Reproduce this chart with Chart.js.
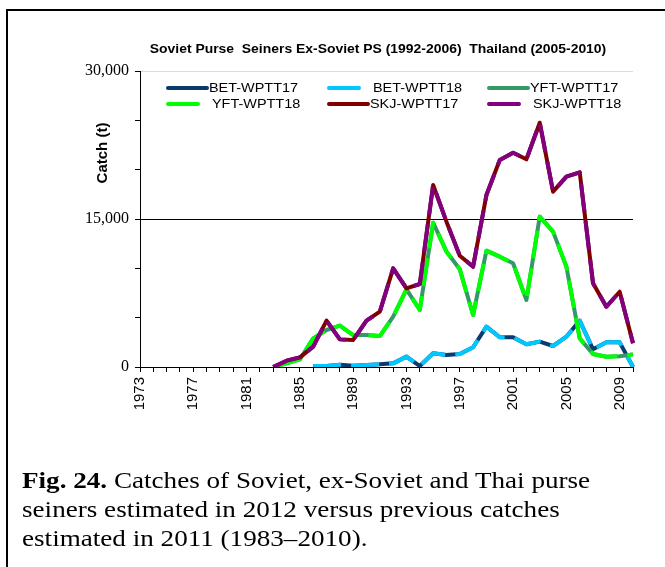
<!DOCTYPE html>
<html>
<head>
<meta charset="utf-8">
<script src="https://cdn.jsdelivr.net/npm/chart.js@4.4.0/dist/chart.umd.min.js"></script>
<style>
  html, body { margin: 0; padding: 0; background: #fff; overflow: hidden; }
  #fig { position: relative; width: 665px; height: 567px; overflow: hidden; }
  #frame { position: absolute; left: 6px; top: 9px; width: 720px; height: 620px; border: 2px solid #000; box-sizing: border-box; }
  #chart { position: absolute; left: 0; top: 0; }
  #caption { position: absolute; left: 22px; top: 466px; font-family: "Liberation Serif", "Times New Roman", serif; font-size: 24px; line-height: 29px; color: #000; white-space: nowrap; transform: scaleX(1.13); transform-origin: 0 0; }
</style>
</head>
<body>
<div id="fig">
  <div id="frame"></div>
  <canvas id="chart" width="665" height="567"></canvas>
  <div id="caption"><b>Fig. 24.</b> Catches of Soviet, ex-Soviet and Thai purse<br>seiners estimated in 2012 versus previous catches<br>estimated in 2011 (1983–2010).</div>
</div>
<script>
// Years on the category axis
const years = ['1973','1974','1975','1976','1977','1978','1979','1980','1981','1982',
               '1983','1984','1985','1986','1987','1988','1989','1990','1991','1992',
               '1993','1994','1995','1996','1997','1998','1999','2000','2001','2002',
               '2003','2004','2005','2006','2007','2008','2009','2010'];

// Labelled ticks
const xTickLabels = ['1973','1977','1981','1985','1989','1993','1997','2001','2005','2009'];
const yTickLabels = [0, 15000, 30000];

// Catches (t), bigeye
const bet17 = [null,null,null,null,null,null,null,null,null,null,null,null,null,
               100,100,230,120,200,270,370,1050,100,1390,1220,1320,2000,4090,3010,3010,2300,2570,2130,3070,4700,1790,2500,2500,0];
const bet18 = [null,null,null,null,null,null,null,null,null,null,null,null,null,
               100,100,230,120,200,270,370,1050,100,1390,1220,1320,2000,4090,3010,3010,2300,2570,2130,3070,4700,1790,2500,2500,0];

// Catches (t), yellowfin
const yft17 = [null,null,null,null,null,null,null,null,null,null,
               0,370,780,2900,3750,4200,3240,3240,3140,5100,7870,5780,14630,11690,9900,5270,11790,11180,10510,6790,15240,13720,10170,2900,1310,1040,1100,1280];
const yft18 = [null,null,null,null,null,null,null,null,null,null,
               0,370,780,2900,3750,4200,3240,3240,3140,5100,7870,5780,14630,11690,9900,5270,11790,11180,10510,6790,15240,13720,10170,2900,1310,1040,1100,1280];

// Catches (t), skipjack
const skj17 = [null,null,null,null,null,null,null,null,null,null,
               0,640,980,2060,4700,2800,2740,4700,5610,10000,7970,8410,18450,14730,11280,10170,17430,20980,21720,21050,24760,17770,19290,19730,8480,6110,7630,2400];
const skj18 = [null,null,null,null,null,null,null,null,null,null,
               0,640,980,2060,4700,2800,2740,4700,5610,10000,7970,8410,18450,14730,11280,10170,17430,20980,21720,21050,24760,17770,19290,19730,8480,6110,7630,2400];

const seriesNames  = ['BET-WPTT17','BET-WPTT18','YFT-WPTT17','YFT-WPTT18','SKJ-WPTT17','SKJ-WPTT18'];
const seriesValues = [bet17, bet18, yft17, yft18, skj17, skj18];

const chartTitle = 'Soviet Purse  Seiners Ex-Soviet PS (1992-2006)  Thailand (2005-2010)';
const yTitle = 'Catch (t)';

// Styles
const seriesColors = ['#0b3b6c','#00c8ff','#339966','#00ff00','#800000','#800080'];
const newEstimateDash = [28, 10];
const sansFont = '"Liberation Sans", Arial, sans-serif';
const serifFont = '"Liberation Serif", "Times New Roman", serif';
const textStretch = 1.11;   // horizontal widening of the chart's text

const datasets = seriesNames.map((name, i) => ({
  label: name,
  data: seriesValues[i],
  borderColor: seriesColors[i],
  backgroundColor: seriesColors[i],
  borderWidth: 4,
  borderDash: (i % 2 === 1) ? newEstimateDash : [],
  borderCapStyle: 'butt',
  borderJoinStyle: 'round',
  pointRadius: 0,
  tension: 0,
  fill: false,
  spanGaps: false,
  order: seriesNames.length - i   // later series sit on top
}));

// Text widened horizontally around its anchor
function stretchedText(ctx, text, x, y, sx, align) {
  ctx.save();
  ctx.translate(x, y);
  ctx.scale(sx, 1);
  ctx.textAlign = align;
  ctx.fillText(text, 0, 0);
  ctx.restore();
}

// Title, axis title and a three-column legend inside the plot
const decorations = {
  id: 'decorations',
  afterDraw(chart) {
    const ctx = chart.ctx;
    ctx.save();
    ctx.fillStyle = '#000';
    ctx.textBaseline = 'middle';

    ctx.font = 'bold 12px ' + sansFont;
    stretchedText(ctx, chartTitle, 378, 50, 1.16, 'center');

    ctx.save();
    ctx.translate(103, 153);
    ctx.rotate(-Math.PI / 2);
    ctx.font = 'bold 15px ' + sansFont;
    ctx.textAlign = 'center';
    ctx.fillText(yTitle, 0, 0);
    ctx.restore();

    const colX = [167, 328, 488];
    const rowY = [88, 104];
    ctx.font = '13px ' + sansFont;
    chart.data.datasets.forEach((ds, i) => {
      const x = colX[i % 3];
      const y = rowY[Math.floor(i / 3)];
      const dashed = ds.borderDash.length > 0;
      ctx.save();
      ctx.strokeStyle = ds.borderColor;
      ctx.lineWidth = 4;
      ctx.lineCap = 'round';
      ctx.beginPath();
      ctx.moveTo(x + 1, y);
      ctx.lineTo(x + (dashed ? 31 : 40), y);
      ctx.stroke();
      ctx.restore();
      stretchedText(ctx, ds.label, x + (dashed ? 45 : 42), y, textStretch, 'left');
    });
    ctx.restore();
  }
};

new Chart(document.getElementById('chart'), {
  type: 'line',
  data: { labels: years, datasets },
  options: {
    responsive: false,
    animation: false,
    layout: { padding: { top: 71, right: 32, left: 0, bottom: 0 } },
    plugins: { legend: { display: false }, tooltip: { enabled: false } },
    scales: {
      x: {
        type: 'category',
        offset: false,
        border: { color: '#000', width: 1 },
        grid: { drawOnChartArea: false, drawTicks: true, tickLength: 5, tickColor: '#000', tickWidth: 1 },
        ticks: {
          autoSkip: false, maxRotation: 90, minRotation: 90, padding: 5, color: '#000',
          font: { family: sansFont, size: 15 },
          callback: (v, i) => xTickLabels.includes(years[i]) ? years[i] : ''
        },
        afterFit: (s) => { s.height = 200; }
      },
      y: {
        min: 0, max: 30000,
        border: { color: '#000', width: 1 },
        grid: {
          drawTicks: true, tickLength: 5, tickColor: '#000', lineWidth: 1,
          color: (c) => c.tick && c.tick.value === 15000 ? '#000' : (c.tick && c.tick.value === 30000 ? '#dcdcdc' : 'rgba(0,0,0,0)')
        },
        ticks: {
          stepSize: 5000, padding: 6, color: '#000',
          font: { family: serifFont, size: 16 },
          callback: (v) => yTickLabels.includes(v) ? v.toLocaleString('en-US') : ''
        },
        afterFit: (s) => { s.width = 140; }
      }
    }
  },
  plugins: [decorations]
});
</script>
</body>
</html>
